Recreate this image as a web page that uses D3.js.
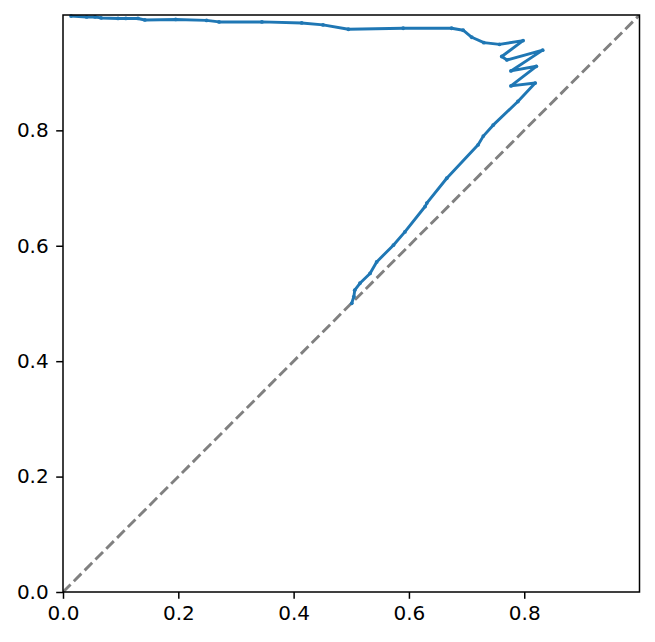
<!DOCTYPE html>
<html>
<head>
<meta charset="utf-8">
<script src="https://cdn.jsdelivr.net/npm/d3@7/dist/d3.min.js"></script>
<style>
html,body{margin:0;padding:0;background:#fff;}
svg{display:block;}
text{font-family:"DejaVu Sans",sans-serif;}
</style>
</head>
<body>
<div id="chart"></div>
<script>
// Data
const xValues = [0.0139,0.041,0.0555,0.066,0.0954,0.109,0.130,0.142,0.1955,0.249,0.2706,0.345,0.414,0.451,0.495,0.590,0.674,0.694,0.709,0.730,0.757,0.798,0.761,0.770,0.832,0.777,0.821,0.777,0.819,0.789,0.746,0.729,0.720,0.6656,0.631,0.628,0.593,0.573,0.544,0.5325,0.515,0.506,0.5045,0.5008];
const yValues = [0.998,0.9965,0.9965,0.9948,0.9939,0.9939,0.9939,0.9913,0.9922,0.9905,0.9879,0.9879,0.9861,0.9827,0.9752,0.9769,0.9769,0.9735,0.9613,0.952,0.949,0.9555,0.928,0.922,0.939,0.903,0.911,0.877,0.882,0.850,0.809,0.790,0.775,0.717,0.674,0.668,0.624,0.601,0.572,0.552,0.535,0.523,0.512,0.5003];
const diagX = [0, 1];
const diagY = [0, 1];
const xTicks = [0.0, 0.2, 0.4, 0.6, 0.8];
const yTicks = [0.0, 0.2, 0.4, 0.6, 0.8];

const W = 655, H = 642;
const margin = {left: 63, top: 15, right: W - 639.5, bottom: H - 592};
const svg = d3.select("#chart").append("svg").attr("width", W).attr("height", H);

const x = d3.scaleLinear().domain([0, 0.9999]).range([margin.left, W - margin.right]);
const y = d3.scaleLinear().domain([0, 0.9999]).range([H - margin.bottom, margin.top]);

const pts = xValues.map((v, i) => [v, yValues[i]]);
const diag = diagX.map((v, i) => [v, diagY[i]]);
const line = d3.line().x(d => x(d[0])).y(d => y(d[1]));

svg.append("clipPath").attr("id", "clip").append("rect")
  .attr("x", margin.left).attr("y", margin.top)
  .attr("width", x.range()[1] - margin.left).attr("height", y.range()[0] - margin.top);

const g = svg.append("g").attr("clip-path", "url(#clip)");
g.append("path").datum(diag).attr("d", line)
  .attr("fill", "none").attr("stroke", "#808080").attr("stroke-width", 2.9)
  .attr("stroke-dasharray", "10.7,4.6");

svg.append("path").datum(pts).attr("d", line)
  .attr("fill", "none").attr("stroke", "#1f77b4").attr("stroke-width", 2.9)
  .attr("stroke-linejoin", "round").attr("stroke-linecap", "butt");
svg.selectAll("circle.pt").data(pts).enter().append("circle")
  .attr("class", "pt").attr("cx", d => x(d[0])).attr("cy", d => y(d[1]))
  .attr("r", 1.9).attr("fill", "#1f77b4");

const fmt = d3.format(".1f");
const xAxis = svg.append("g").attr("transform", `translate(0,${y.range()[0]})`)
  .call(d3.axisBottom(x).tickValues(xTicks).tickFormat(fmt).tickSize(6.8).tickPadding(6.8));
const yAxis = svg.append("g").attr("transform", `translate(${margin.left},0)`)
  .call(d3.axisLeft(y).tickValues(yTicks).tickFormat(fmt).tickSize(6.8).tickPadding(7.5));
[xAxis, yAxis].forEach(a => {
  a.select(".domain").remove();
  a.selectAll(".tick line").attr("stroke", "#000").attr("stroke-width", 1.5);
  a.selectAll(".tick text").attr("font-size", 20).attr("fill", "#000")
    .attr("font-family", "DejaVu Sans, sans-serif");
});

svg.append("rect").attr("x", margin.left).attr("y", margin.top)
  .attr("width", x.range()[1] - margin.left).attr("height", y.range()[0] - margin.top)
  .attr("fill", "none").attr("stroke", "#000").attr("stroke-width", 1.5);
</script>
</body>
</html>
